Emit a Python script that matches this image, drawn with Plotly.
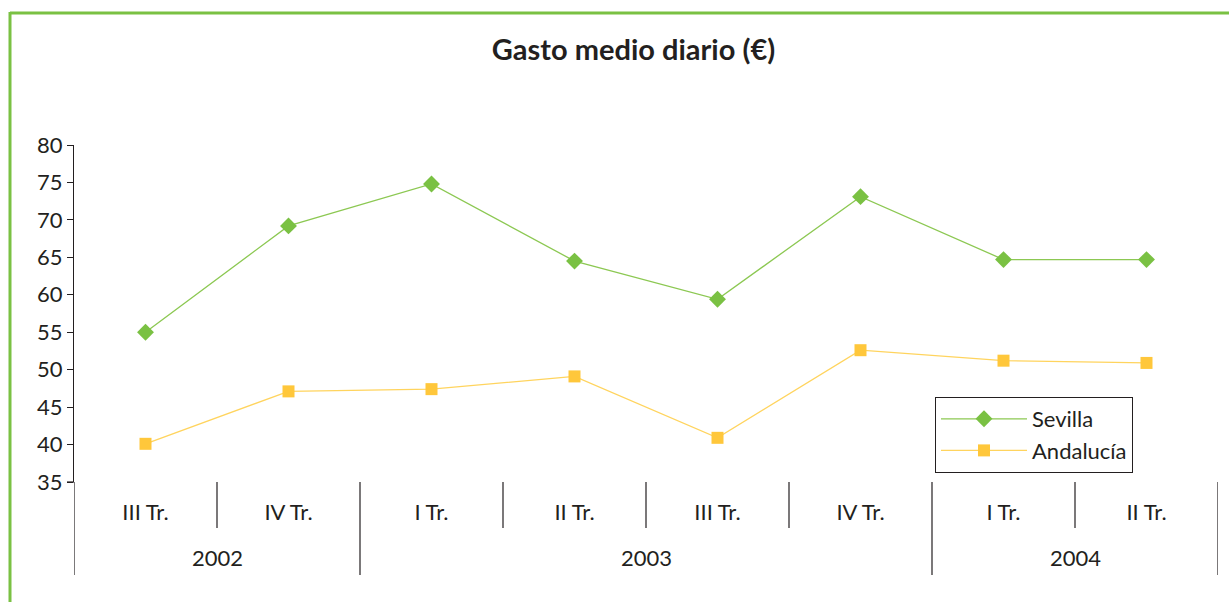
import plotly.graph_objects as go

quarters = ["III Tr.", "IV Tr.", "I Tr.", "II Tr.", "III Tr.", "IV Tr.", "I Tr.", "II Tr."]
quarter_years = ["2002", "2002", "2003", "2003", "2003", "2003", "2004", "2004"]
sevilla = [55.0, 69.2, 74.8, 64.5, 59.4, 73.1, 64.7, 64.7]
andalucia = [40.1, 47.1, 47.4, 49.1, 40.9, 52.6, 51.2, 50.9]
y_ticks = [35, 40, 45, 50, 55, 60, 65, 70, 75, 80]

W, H = 1229, 602
ML, MR, MT, MB = 74, 11, 145, 120
PW = W - ML - MR
PH = H - MT - MB

def px_to_paper_x(px):
    return (px - ML) / PW

def px_to_paper_y(py):
    return (H - MB - py) / PH

FONT = "Lato, 'Open Sans', sans-serif"
GREEN = "#7ac143"
YELLOW = "#ffc73b"
DARK = "#231f20"

xs = list(range(len(quarters)))

fig = go.Figure()
fig.add_trace(go.Scatter(
    x=xs, y=sevilla, name="Sevilla", mode="lines+markers",
    line=dict(color="#8cc852", width=1.3),
    marker=dict(symbol="diamond", size=13, color=GREEN),
))
fig.add_trace(go.Scatter(
    x=xs, y=andalucia, name="Andalucía", mode="lines+markers",
    line=dict(color="#ffd45e", width=1.3),
    marker=dict(symbol="square", size=12, color=YELLOW),
))

shapes = []
inner_bottom = px_to_paper_y(528)
outer_bottom = px_to_paper_y(575)
year_bounds = set()
for i in range(len(quarters) + 1):
    if i == 0 or i == len(quarters) or quarter_years[i] != quarter_years[i - 1]:
        year_bounds.add(i)
for i in range(len(quarters) + 1):
    y1 = outer_bottom if i in year_bounds else inner_bottom
    shapes.append(dict(type="line", xref="x", yref="paper", x0=i - 0.5, x1=i - 0.5,
                       y0=0, y1=y1, line=dict(color=DARK, width=1.2)))
shapes.append(dict(type="line", xref="paper", yref="paper", x0=px_to_paper_x(67), x1=0,
                   y0=0, y1=0, line=dict(color=DARK, width=1.2)))
# green frame
shapes.append(dict(type="line", xref="paper", yref="paper",
                   x0=px_to_paper_x(10), x1=px_to_paper_x(W + 5),
                   y0=px_to_paper_y(13), y1=px_to_paper_y(13),
                   line=dict(color=GREEN, width=3)))
shapes.append(dict(type="line", xref="paper", yref="paper",
                   x0=px_to_paper_x(10), x1=px_to_paper_x(10),
                   y0=px_to_paper_y(12), y1=px_to_paper_y(H + 5),
                   line=dict(color=GREEN, width=3)))

annotations = []
years = []
for y in quarter_years:
    if y not in years:
        years.append(y)
for yr in years:
    idx = [i for i, q in enumerate(quarter_years) if q == yr]
    center = (idx[0] + idx[-1]) / 2
    annotations.append(dict(x=center, y=px_to_paper_y(557), xref="x", yref="paper",
                            text=yr, showarrow=False, xanchor="center", yanchor="middle",
                            font=dict(family=FONT, size=22, color=DARK)))

fig.update_layout(
    width=W, height=H,
    margin=dict(l=ML, r=MR, t=MT, b=MB),
    paper_bgcolor="white", plot_bgcolor="white",
    title=dict(text="<b>Gasto medio diario (€)</b>", x=633.5 / W,
               xanchor="center", y=1 - 50 / H, yanchor="middle",
               font=dict(family=FONT, size=29, color=DARK)),
    xaxis=dict(range=[-0.5, len(quarters) - 0.5], tickvals=xs, ticktext=quarters,
               showgrid=False, zeroline=False, showline=False, ticks="",
               ticklabelstandoff=15,
               tickfont=dict(family=FONT, size=22, color=DARK)),
    yaxis=dict(range=[35, 80], tickvals=y_ticks, showgrid=False, zeroline=False,
               showline=True, linecolor=DARK, linewidth=1.2,
               ticks="outside", ticklen=6, tickcolor=DARK, tickwidth=1.2,
               tickfont=dict(family=FONT, size=22, color=DARK)),
    legend=dict(x=px_to_paper_x(935), y=px_to_paper_y(397), xanchor="left", yanchor="top",
                bordercolor=DARK, borderwidth=1, bgcolor="white",
                font=dict(family=FONT, size=22, color=DARK),
                tracegroupgap=0, itemwidth=86),
    shapes=shapes,
    annotations=annotations,
    showlegend=True,
)

fig.write_html("out.html", config={"displayModeBar": False},
               post_script="document.body.style.margin='0';document.body.style.overflow='hidden';")
